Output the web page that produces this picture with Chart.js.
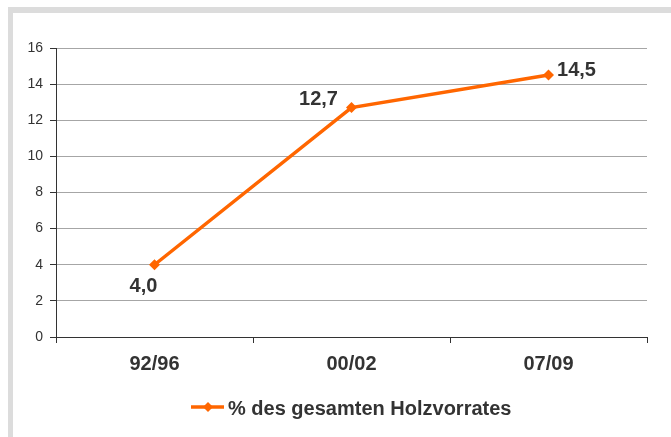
<!DOCTYPE html>
<html>
<head>
<meta charset="utf-8">
<script src="https://cdn.jsdelivr.net/npm/chart.js@4/dist/chart.umd.min.js"></script>
<style>
  html, body { margin: 0; padding: 0; background: #fff; }
  #frame { position: absolute; left: 8px; top: 7px; right: 0; bottom: 0; border-top: 6px solid #dcdcdc; border-left: 5px solid #dcdcdc; }
  #lineChart { position: absolute; left: 0; top: 0; }
</style>
</head>
<body>
<div id="frame"></div>
<canvas id="lineChart" width="671" height="437"></canvas>
<script>
// data
const periods = ['92/96', '00/02', '07/09']
const shareValues = [4.0, 12.7, 14.5]
const seriesName = '% des gesamten Holzvorrates'
const yTicks = [0, 2, 4, 6, 8, 10, 12, 14, 16]

const ORANGE = '#ff6600'
const TEXT = '#333333'
const FONT = "'Liberation Sans', Arial, sans-serif"

// where each value label sits relative to its point
const labelOffsets = [[-11, 22], [-33, -8], [28, -5]]

const valueLabels = {
    id: 'valueLabels',
    afterDatasetsDraw(chart) {
        const ctx = chart.ctx
        const meta = chart.getDatasetMeta(0)
        ctx.save()
        ctx.font = 'bold 20px ' + FONT
        ctx.fillStyle = TEXT
        ctx.textAlign = 'center'
        ctx.textBaseline = 'middle'
        meta.data.forEach(function (pt, i) {
            let txt = shareValues[i].toFixed(1).replace('.', ',')
            ctx.fillText(txt, pt.x + labelOffsets[i][0], pt.y + labelOffsets[i][1])
        })
        ctx.restore()
    }
}

const bottomLegend = {
    id: 'bottomLegend',
    afterDraw(chart) {
        const ctx = chart.ctx
        const area = chart.chartArea
        ctx.save()
        ctx.font = 'bold 20px ' + FONT
        let tw = ctx.measureText(seriesName).width
        let total = 33 + 4 + tw
        let x0 = Math.round((area.left + area.right) / 2 - total / 2)
        let y = 407
        ctx.strokeStyle = ORANGE
        ctx.lineWidth = 3.5
        ctx.beginPath()
        ctx.moveTo(x0, y)
        ctx.lineTo(x0 + 33, y)
        ctx.stroke()
        ctx.fillStyle = ORANGE
        ctx.beginPath()
        ctx.moveTo(x0 + 17, y - 5)
        ctx.lineTo(x0 + 22, y)
        ctx.lineTo(x0 + 17, y + 5)
        ctx.lineTo(x0 + 12, y)
        ctx.closePath()
        ctx.fill()
        ctx.fillStyle = TEXT
        ctx.textAlign = 'left'
        ctx.textBaseline = 'middle'
        ctx.fillText(seriesName, x0 + 37, y + 2)
        ctx.restore()
    }
}

const data = {
    labels: periods,
    datasets: [{
        label: seriesName,
        data: shareValues,
        borderColor: ORANGE,
        backgroundColor: ORANGE,
        borderWidth: 3.5,
        tension: 0,
        pointStyle: 'rectRot',
        pointRadius: 5.5,
        pointBorderWidth: 0,
        pointBackgroundColor: ORANGE
    }]
}

const config = {
    type: 'line',
    data: data,
    options: {
        responsive: false,
        animation: false,
        layout: { padding: { top: 48, right: 24, left: 0, bottom: 0 } },
        plugins: {
            legend: { display: false },
            tooltip: { enabled: false }
        },
        scales: {
            x: {
                offset: true,
                afterFit: function (scale) { scale.height = 100 },
                grid: { drawOnChartArea: false, offset: true, tickLength: 6, color: TEXT, lineWidth: 1 },
                border: { color: TEXT, width: 1 },
                ticks: { font: { family: FONT, size: 20, weight: 'bold' }, color: TEXT, padding: 9 }
            },
            y: {
                min: 0,
                max: 16,
                afterFit: function (scale) { scale.width = 56 },
                afterBuildTicks: function (scale) { scale.ticks = yTicks.map(v => ({ value: v })) },
                grid: { color: '#a6a6a6', lineWidth: 1, tickLength: 6, tickColor: TEXT },
                border: { color: TEXT, width: 1 },
                ticks: { font: { family: FONT, size: 14 }, color: TEXT, padding: 7 }
            }
        }
    },
    plugins: [valueLabels, bottomLegend]
}

new Chart(document.getElementById('lineChart'), config)
</script>
</body>
</html>
